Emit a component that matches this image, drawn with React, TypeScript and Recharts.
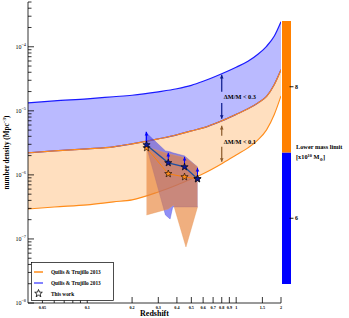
import React from 'react';
import { ComposedChart, Area, Line, Scatter, XAxis, YAxis, BarChart, Bar } from 'recharts';

const serif = '"Liberation Serif", "DejaVu Serif", serif';

// model bands (Quilis & Trujillo 2013)
const zGrid = [0.04, 0.06, 0.1, 0.15, 0.2, 0.3, 0.4, 0.5, 0.6, 0.8, 1.0, 1.2, 1.4, 1.6, 1.8, 2.0];
const blueUpper = [1.33e-5, 1.43e-5, 1.54e-5, 1.66e-5, 1.75e-5, 1.98e-5, 2.21e-5, 2.5e-5, 2.89e-5, 3.79e-5, 4.79e-5, 5.93e-5, 7.63e-5, 1.018e-4, 1.46e-4, 2.46e-4];
const orangeUpper = [2.21e-6, 2.37e-6, 2.55e-6, 2.74e-6, 3.05e-6, 3.65e-6, 4.22e-6, 4.87e-6, 5.42e-6, 6.98e-6, 8.8e-6, 1.075e-5, 1.33e-5, 1.68e-5, 2.55e-5, 4.37e-5];
const orangeLower = [2.94e-7, 3.16e-7, 3.4e-7, 3.79e-7, 4.07e-7, 5.42e-7, 6.98e-7, 8.66e-7, 1.04e-6, 1.49e-6, 2.05e-6, 2.64e-6, 3.52e-6, 5.05e-6, 8.66e-6, 1.71e-5];

// this work
const workZ = [0.25, 0.35, 0.45, 0.55];
const workBlue = [2.94e-6, 1.54e-6, 1.33e-6, 8.66e-7];
const workOrange = [2.64e-6, 1.04e-6, 9.3e-7, 8.66e-7];
const workBlueLimit = [4.7e-6, 2.21e-6, 1.91e-6, 1.29e-6];

// uncertainty regions
const bluePolyZ = [0.245, 0.335, 0.36, 0.375, 0.45, 0.55];
const bluePolyLow = [3.28e-6, 2.37e-7, 2.05e-7, 3.16e-7, 3.16e-7, 3.16e-7];
const bluePolyHigh = [4.7e-6, 2.37e-6, 2.29e-6, 2.21e-6, 1.98e-6, 1.33e-6];
const orangePolyZ = [0.25, 0.35, 0.38, 0.46, 0.55];
const orangePolyLow = [2.37e-7, 2.94e-7, 3.4e-7, 7.5e-8, 3.16e-7];
const orangePolyHigh = [2.74e-6, 2.13e-6, 2.05e-6, 1.84e-6, 1.33e-6];

// delta M / M arrows
const dmZ = 0.8;
const dmBlueSeg = [3.65e-5, 1.98e-5, 1.33e-5, 7.5e-6];
const dmBrownSeg = [5.83e-6, 4.07e-6, 2.74e-6, 1.6e-6];
const dmLabels = [
  { z: 0.8, y: 1.66e-5, text: 'ΔM/M < 0.3' },
  { z: 0.8, y: 3.28e-6, text: 'ΔM/M < 0.1' },
];

// axes
const xMajor = [0.05, 0.1, 0.2, 0.3, 0.4, 0.5, 0.6, 0.7, 0.8, 0.9, 1, 1.5, 2];
const xMinor = [0.06, 0.07, 0.08, 0.09];
const xTicks = [...xMajor, ...xMinor].sort((a, b) => a - b);
const yDecades = [1e-8, 1e-7, 1e-6, 1e-5, 1e-4];
const yTicks: number[] = [];
yDecades.forEach((d) => {
  for (let m = 1; m <= 9; m++) {
    if (d === 1e-4 && m > 5) break;
    yTicks.push(m * d);
  }
});

// colour bar (lower mass limit, x10^10 Msun)
const massBar = [{ name: 'mass', low: [5, 7], high: [7, 9] }];
const massTicks = [6, 8];

const bandData = zGrid.map((z, i) => ({
  z,
  blue: [orangeUpper[i], blueUpper[i]],
  orange: [orangeLower[i], orangeUpper[i]],
}));
const bluePoly = bluePolyZ.map((z, i) => ({ z, r: [bluePolyLow[i], bluePolyHigh[i]] }));
const orangePoly = orangePolyZ.map((z, i) => ({ z, r: [orangePolyLow[i], orangePolyHigh[i]] }));
const blueStars = workZ.map((z, i) => ({ z, y: workBlue[i] }));
const orangeStars = workZ.map((z, i) => ({ z, y: workOrange[i] }));
const limitLines = workZ.flatMap((z, i) => [
  { z, y: workBlue[i] },
  { z, y: workBlueLimit[i] },
  { z, y: null },
]);
const limitHeads = workZ.map((z, i) => ({ z, y: workBlueLimit[i], dir: 'up' }));
const segs = (s: number[]) => [
  { z: dmZ, y: s[0] },
  { z: dmZ, y: s[1] },
  { z: dmZ, y: null },
  { z: dmZ, y: s[2] },
  { z: dmZ, y: s[3] },
];
const heads = (s: number[]) => [
  { z: dmZ, y: s[0], dir: 'up' },
  { z: dmZ, y: s[3], dir: 'down' },
];

const isDecade = (v: number) => Math.abs(Math.log10(v) - Math.round(Math.log10(v))) < 1e-6;
const xLabel = (v: number) => (xMajor.some((m) => Math.abs(m - v) < 1e-9) ? String(v) : '');

const starD = (cx: number, cy: number, R: number, r: number) => {
  let d = '';
  for (let i = 0; i < 10; i++) {
    const a = -Math.PI / 2 + (i * Math.PI) / 5;
    const rad = i % 2 ? r : R;
    d += (i ? 'L' : 'M') + (cx + rad * Math.cos(a)).toFixed(2) + ',' + (cy + rad * Math.sin(a)).toFixed(2);
  }
  return d + 'Z';
};

const LeftTick = (p: any) => {
  const v = p.payload.value;
  const major = isDecade(v);
  return (
    <g>
      <line x1={p.x} x2={p.x + (major ? 6 : 3.5)} y1={p.y} y2={p.y} stroke="#000" strokeWidth={0.8} />
      {major && (
        <text x={p.x - 2} y={p.y + 2} textAnchor="end" fontSize={6} fontFamily={serif} fill="#000">
          10<tspan dy={-3} fontSize={4.3}>{'−' + Math.abs(Math.round(Math.log10(v)))}</tspan>
        </text>
      )}
    </g>
  );
};

const RightTick = (p: any) => {
  const major = isDecade(p.payload.value);
  return <line x1={p.x} x2={p.x - (major ? 6 : 3.5)} y1={p.y} y2={p.y} stroke="#000" strokeWidth={0.8} />;
};

const BottomTick = (p: any) => {
  const lab = xLabel(p.payload.value);
  return (
    <g>
      <line x1={p.x} x2={p.x} y1={p.y} y2={p.y - (lab ? 6 : 3.5)} stroke="#000" strokeWidth={0.8} />
      {lab && (
        <text x={p.x} y={p.y + 5.5} textAnchor="middle" fontSize={4.2} fontWeight="bold" fontFamily={serif} fill="#000">
          {lab}
        </text>
      )}
    </g>
  );
};

const TopTick = (p: any) => {
  const lab = xLabel(p.payload.value);
  return <line x1={p.x} x2={p.x} y1={p.y} y2={p.y + (lab ? 6 : 3.5)} stroke="#000" strokeWidth={0.8} />;
};

const MassTick = (p: any) => (
  <g>
    <line x1={p.x - 1.5} x2={p.x + 2.5} y1={p.y} y2={p.y} stroke="#000" strokeWidth={0.9} />
    <text x={p.x + 4} y={p.y + 2} fontSize={6} fontWeight="bold" fontFamily={serif} fill="#000">
      {p.payload.value}
    </text>
  </g>
);

const Head = (color: string) => (p: any) => {
  const { cx, cy } = p;
  const up = p.payload.dir === 'up';
  const s = up ? 1 : -1;
  return <path d={`M${cx},${cy} L${cx - 1.8},${cy + s * 3.6} L${cx + 1.8},${cy + s * 3.6} Z`} fill={color} />;
};

const StarShape = (fill: string) => (p: any) => (
  <path d={starD(p.cx, p.cy, 3.8, 1.6)} fill={fill} stroke="#000" strokeWidth={0.6} />
);

const TextShape = (p: any) => (
  <text x={p.cx + 2} y={p.cy + 2.2} fontSize={6.3} fontWeight="bold" fontFamily={serif} fill="#000">
    {p.payload.text}
  </text>
);

export default function App() {
  const logX = { type: 'number' as const, scale: 'log' as const, domain: [0.04, 2], allowDataOverflow: true, ticks: xTicks, interval: 0, tickSize: 0, tickMargin: 0, tickLine: false };
  const logY = { type: 'number' as const, scale: 'log' as const, domain: [1e-8, 5e-4], allowDataOverflow: true, ticks: yTicks, interval: 0, tickSize: 0, tickMargin: 0, tickLine: false };
  const axisLine = { stroke: '#000', strokeWidth: 0.8 };
  return (
    <div style={{ position: 'absolute', left: 0, top: 0, width: 349, height: 318, background: '#fff', fontFamily: serif }}>
      <div style={{ position: 'absolute', left: 0, top: 0 }}>
        <ComposedChart width={349} height={318} data={bandData} margin={{ top: 2, right: 68, bottom: 0, left: 0 }}>
          <XAxis
            dataKey="z"
            {...logX}
            height={15}
            axisLine={axisLine}
            tick={BottomTick}
            label={(p: any) => (
              <text x={p.viewBox.x + p.viewBox.width / 2} y={p.viewBox.y + 12.5} textAnchor="middle" fontSize={8} fontWeight="bold" fontFamily={serif} fill="#000">
                Redshift
              </text>
            )}
          />
          <XAxis xAxisId="top" orientation="top" {...logX} height={0} axisLine={axisLine} tick={TopTick} />
          <YAxis
            {...logY}
            width={28}
            axisLine={axisLine}
            tick={LeftTick}
            label={(p: any) => {
              const cx = 8.5;
              const cy = p.viewBox.y + p.viewBox.height / 2;
              return (
                <text x={cx} y={cy} transform={`rotate(-90 ${cx} ${cy})`} textAnchor="middle" fontSize={7.2} fontWeight="bold" fontFamily={serif} fill="#000">
                  number density (Mpc<tspan dy={-2.5} fontSize={5}>−3</tspan><tspan dy={2.5}>)</tspan>
                </text>
              );
            }}
          />
          <YAxis yAxisId="right" orientation="right" {...logY} width={0} axisLine={axisLine} tick={RightTick} />

          <Area dataKey="blue" type="monotone" fill="#0000ff" fillOpacity={0.27} stroke="#1a1aff" strokeWidth={1.2} dot={false} activeDot={false} isAnimationActive={false} />
          <Area dataKey="orange" type="monotone" fill="#ff8000" fillOpacity={0.25} stroke="#ff8c1a" strokeWidth={1.1} dot={false} activeDot={false} isAnimationActive={false} />

          <Area data={bluePoly} dataKey="r" type="linear" fill="#3333ee" fillOpacity={0.55} stroke="#5555dd" strokeWidth={0.4} dot={false} activeDot={false} isAnimationActive={false} />
          <Area data={orangePoly} dataKey="r" type="linear" fill="#e8843a" fillOpacity={0.65} stroke="#e89a5a" strokeWidth={0.4} dot={false} activeDot={false} isAnimationActive={false} />

          <Line data={orangeStars} dataKey="y" type="linear" stroke="#ff8000" strokeWidth={0.9} dot={false} activeDot={false} isAnimationActive={false} />
          <Line data={blueStars} dataKey="y" type="linear" stroke="#1f4f9f" strokeWidth={1.3} dot={false} activeDot={false} isAnimationActive={false} />
          <Line data={limitLines} dataKey="y" type="linear" stroke="#0000ff" strokeWidth={1} dot={false} activeDot={false} isAnimationActive={false} />
          <Scatter data={limitHeads} dataKey="y" shape={Head('#0000ff')} isAnimationActive={false} />

          <Line data={segs(dmBlueSeg)} dataKey="y" type="linear" stroke="#0a1a8c" strokeWidth={1.2} dot={false} activeDot={false} isAnimationActive={false} />
          <Scatter data={heads(dmBlueSeg)} dataKey="y" shape={Head('#0a1a8c')} isAnimationActive={false} />
          <Line data={segs(dmBrownSeg)} dataKey="y" type="linear" stroke="#8b5a2b" strokeWidth={1.2} dot={false} activeDot={false} isAnimationActive={false} />
          <Scatter data={heads(dmBrownSeg)} dataKey="y" shape={Head('#8b5a2b')} isAnimationActive={false} />
          <Scatter data={dmLabels} dataKey="y" shape={TextShape} isAnimationActive={false} />

          <Scatter data={orangeStars} dataKey="y" shape={StarShape('#ff8c1a')} isAnimationActive={false} />
          <Scatter data={blueStars} dataKey="y" shape={StarShape('#0a1a9a')} isAnimationActive={false} />
        </ComposedChart>
      </div>

      <div style={{ position: 'absolute', left: 282, top: 0 }}>
        <BarChart width={67} height={318} data={massBar} margin={{ top: 21, right: 0, bottom: 34, left: 0 }} barCategoryGap={0}>
          <XAxis xAxisId="a" dataKey="name" hide />
          <XAxis xAxisId="b" dataKey="name" hide />
          <YAxis
            orientation="right"
            type="number"
            domain={[5, 9]}
            ticks={massTicks}
            width={58}
            tickSize={0}
            tickMargin={0}
            tickLine={false}
            axisLine={false}
            tick={MassTick}
            label={(p: any) => (
              <text x={p.viewBox.x + 5} y={149} fontSize={6.3} fontWeight="bold" fontFamily={serif} fill="#000">
                <tspan x={p.viewBox.x + 5}>Lower mass limit</tspan>
                <tspan x={p.viewBox.x + 5} dy={10}>[x10</tspan>
                <tspan dy={-2.5} fontSize={4.3}>10</tspan>
                <tspan dy={2.5}> M</tspan>
                <tspan dy={1.5} fontSize={4.3}>⊙</tspan>
                <tspan dy={-1.5}>]</tspan>
              </text>
            )}
          />
          <Bar xAxisId="a" dataKey="low" fill="#0000ff" isAnimationActive={false} />
          <Bar xAxisId="b" dataKey="high" fill="#ff8000" isAnimationActive={false} />
        </BarChart>
      </div>

      <svg style={{ position: 'absolute', left: 31, top: 262 }} width={83} height={39}>
        <rect x={0.5} y={0.5} width={82} height={38} fill="#fff" stroke="#000" strokeWidth={0.7} />
        <line x1={3} x2={12} y1={10} y2={10} stroke="#ff8c1a" strokeWidth={1.5} />
        <text x={20} y={12} fontSize={5.3} fontWeight="bold" fontFamily={serif} fill="#000">Quilis &amp; Trujillo 2013</text>
        <line x1={3} x2={12} y1={21} y2={21} stroke="#5a5aff" strokeWidth={1.5} />
        <text x={20} y={23} fontSize={5.3} fontWeight="bold" fontFamily={serif} fill="#000">Quilis &amp; Trujillo 2013</text>
        <path d={starD(7.5, 31.5, 4, 1.7)} fill="#fff" stroke="#000" strokeWidth={0.8} />
        <text x={20} y={33.5} fontSize={5.3} fontWeight="bold" fontFamily={serif} fill="#000">This work</text>
      </svg>
    </div>
  );
}
